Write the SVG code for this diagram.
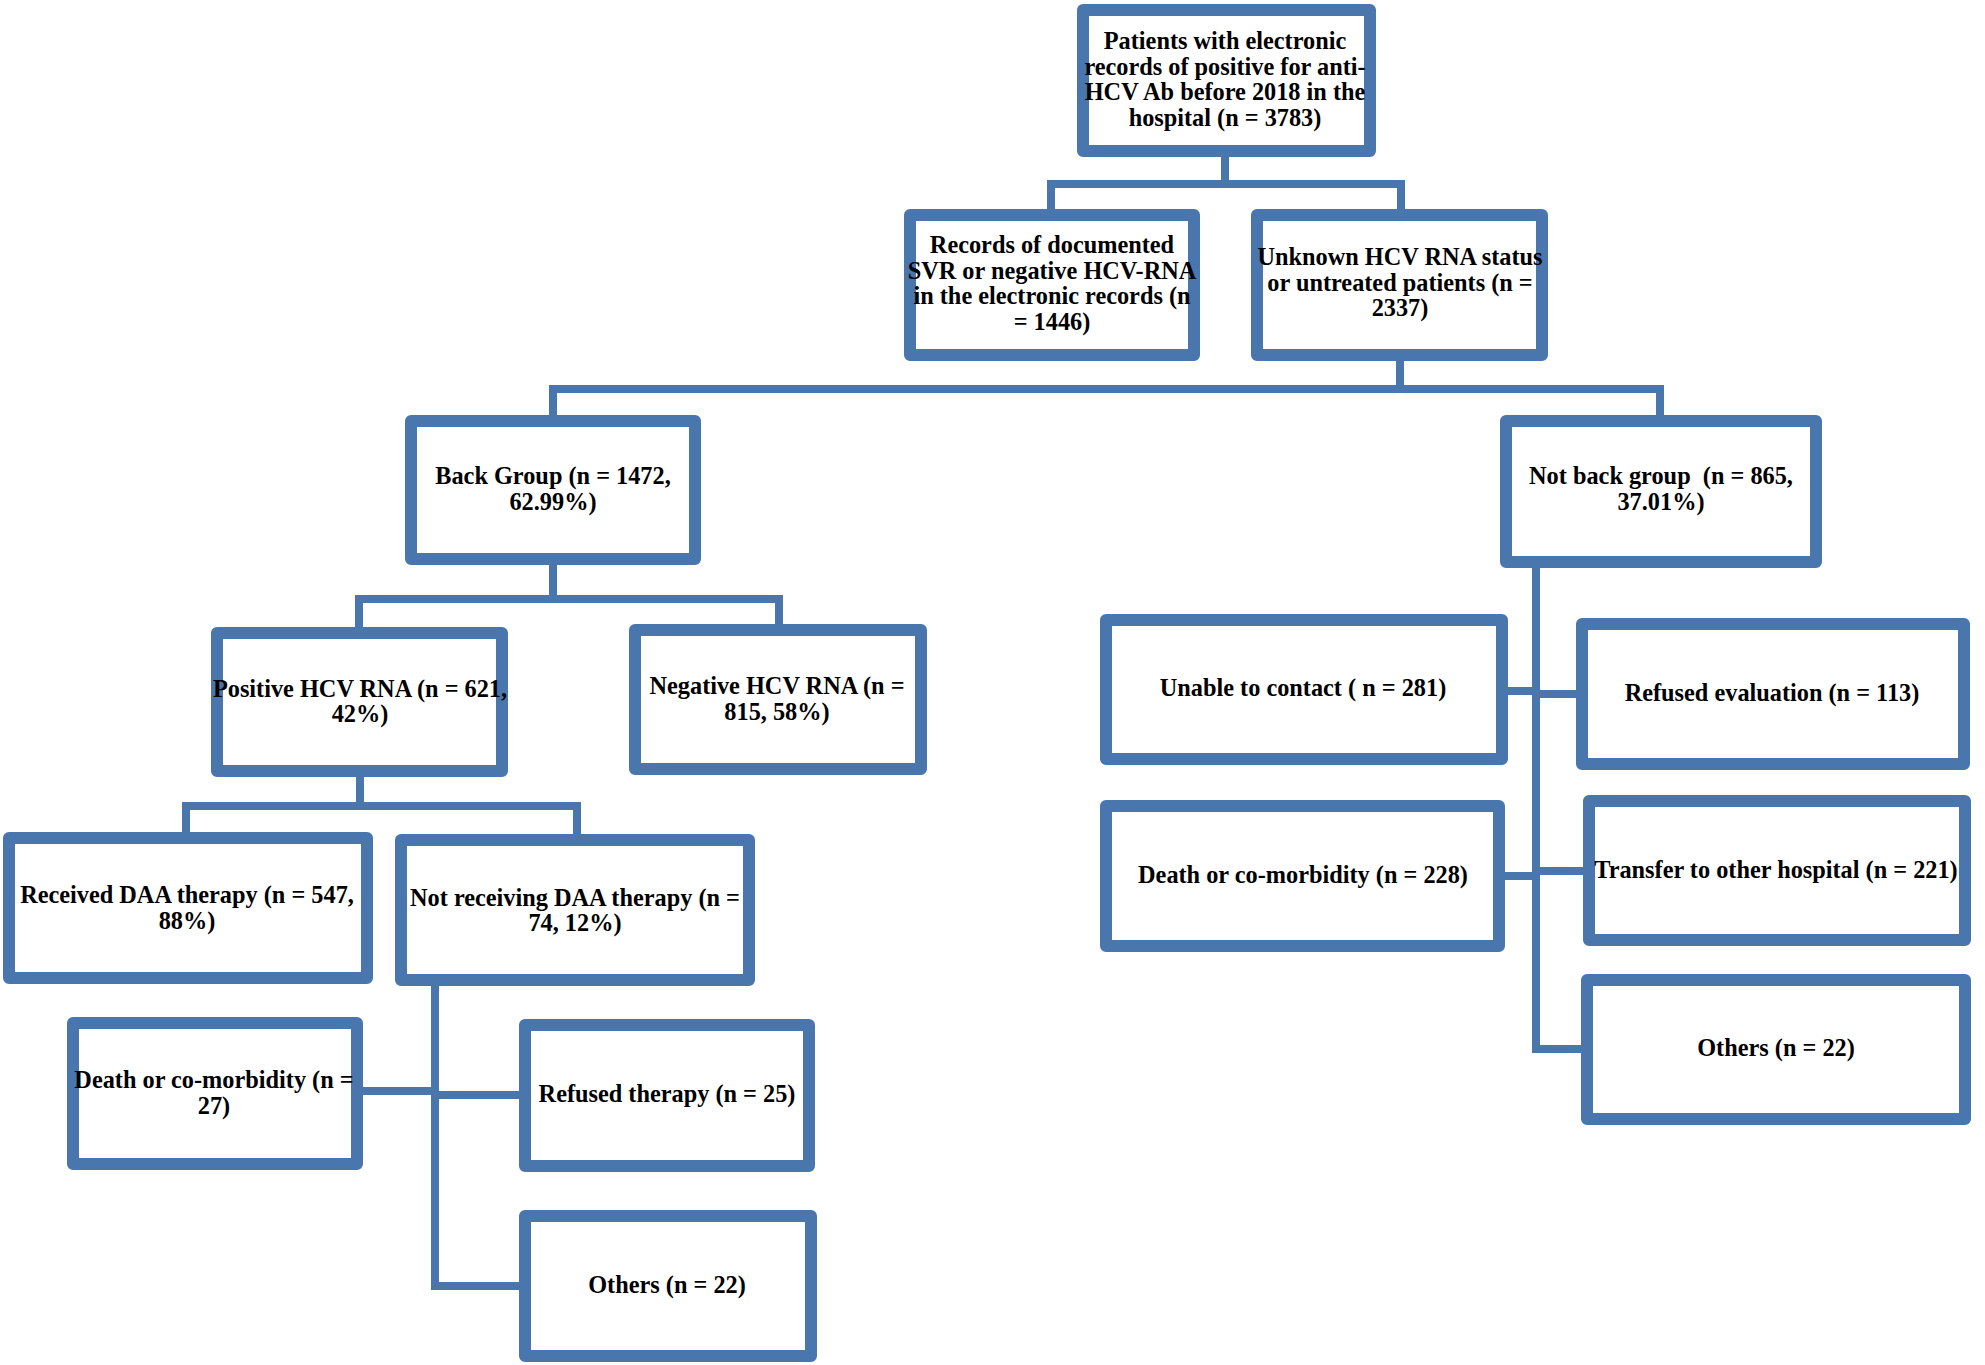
<svg xmlns="http://www.w3.org/2000/svg" width="1985" height="1365" viewBox="0 0 1985 1365">
<style>
.box{fill:#fff;stroke:#4A76AE;stroke-width:12;stroke-linejoin:round}
.c{fill:none;stroke:#4A76AE;stroke-width:8;stroke-linecap:square}
text{font-family:"Liberation Serif","DejaVu Serif",serif;font-weight:bold;font-size:24.3px;fill:#000;text-anchor:middle}
</style>
<rect width="1985" height="1365" fill="#fff"/>
<g id="connectors">
<polyline class="c" points="1225,157 1225,184"/>
<polyline class="c" points="1051,209 1051,184 1401,184 1401,209"/>
<polyline class="c" points="1400,361 1400,389"/>
<polyline class="c" points="553,415 553,389 1660,389 1660,415"/>
<polyline class="c" points="553,565 553,599"/>
<polyline class="c" points="359,627 359,599 779,599 779,624"/>
<polyline class="c" points="360,777 360,806"/>
<polyline class="c" points="186,832 186,806 577,806 577,834"/>
<polyline class="c" points="435,986 435,1286 519,1286"/>
<polyline class="c" points="363,1091 435,1091"/>
<polyline class="c" points="435,1095 519,1095"/>
<polyline class="c" points="1536,568 1536,1049 1581,1049"/>
<polyline class="c" points="1508,691 1536,691"/>
<polyline class="c" points="1536,694 1576,694"/>
<polyline class="c" points="1505,876 1536,876"/>
<polyline class="c" points="1536,871 1583,871"/>
</g>
<g id="n_top">
<rect class="box" x="1083" y="10" width="287" height="141"/>
<text x="1225" y="49">Patients with electronic</text>
<text x="1225" y="74.5">records of positive for anti-</text>
<text x="1225" y="100">HCV Ab before 2018 in the</text>
<text x="1225" y="125.5">hospital (n = 3783)</text>
</g>
<g id="n_records">
<rect class="box" x="910" y="215" width="284" height="140"/>
<text x="1052" y="253">Records of documented</text>
<text x="1052" y="278.5">SVR or negative HCV-RNA</text>
<text x="1052" y="304">in the electronic records (n</text>
<text x="1052" y="329.5">= 1446)</text>
</g>
<g id="n_unknown">
<rect class="box" x="1257" y="215" width="285" height="140"/>
<text x="1400" y="265">Unknown HCV RNA status</text>
<text x="1400" y="290.5">or untreated patients (n =</text>
<text x="1400" y="316">2337)</text>
</g>
<g id="n_back">
<rect class="box" x="411" y="421" width="284" height="138"/>
<text x="553" y="484">Back Group (n = 1472,</text>
<text x="553" y="510">62.99%)</text>
</g>
<g id="n_notback">
<rect class="box" x="1506" y="421" width="310" height="141"/>
<text x="1661" y="484" xml:space="preserve">Not back group  (n = 865,</text>
<text x="1661" y="510">37.01%)</text>
</g>
<g id="n_positive">
<rect class="box" x="217" y="633" width="285" height="138"/>
<text x="360" y="697">Positive HCV RNA (n = 621,</text>
<text x="360" y="722">42%)</text>
</g>
<g id="n_negative">
<rect class="box" x="635" y="630" width="286" height="139"/>
<text x="777" y="694">Negative HCV RNA (n =</text>
<text x="777" y="720">815, 58%)</text>
</g>
<g id="n_received">
<rect class="box" x="9" y="838" width="358" height="140"/>
<text x="187" y="903">Received DAA therapy (n = 547,</text>
<text x="187" y="929">88%)</text>
</g>
<g id="n_notreceiving">
<rect class="box" x="401" y="840" width="348" height="140"/>
<text x="575" y="906">Not receiving DAA therapy (n =</text>
<text x="575" y="931">74, 12%)</text>
</g>
<g id="n_death_left">
<rect class="box" x="73" y="1023" width="284" height="141"/>
<text x="214" y="1088">Death or co-morbidity (n =</text>
<text x="214" y="1114">27)</text>
</g>
<g id="n_refused_therapy">
<rect class="box" x="525" y="1025" width="284" height="141"/>
<text x="667" y="1102">Refused therapy (n = 25)</text>
</g>
<g id="n_others_left">
<rect class="box" x="525" y="1216" width="286" height="140"/>
<text x="667" y="1293">Others (n = 22)</text>
</g>
<g id="n_unable">
<rect class="box" x="1106" y="620" width="396" height="139"/>
<text x="1303" y="696">Unable to contact ( n = 281)</text>
</g>
<g id="n_refused_eval">
<rect class="box" x="1582" y="624" width="382" height="140"/>
<text x="1772" y="701">Refused evaluation (n = 113)</text>
</g>
<g id="n_death_right">
<rect class="box" x="1106" y="806" width="393" height="140"/>
<text x="1303" y="883">Death or co-morbidity (n = 228)</text>
</g>
<g id="n_transfer">
<rect class="box" x="1589" y="801" width="376" height="139"/>
<text x="1776" y="878">Transfer to other hospital (n = 221)</text>
</g>
<g id="n_others_right">
<rect class="box" x="1587" y="980" width="378" height="139"/>
<text x="1776" y="1056">Others (n = 22)</text>
</g>
</svg>
